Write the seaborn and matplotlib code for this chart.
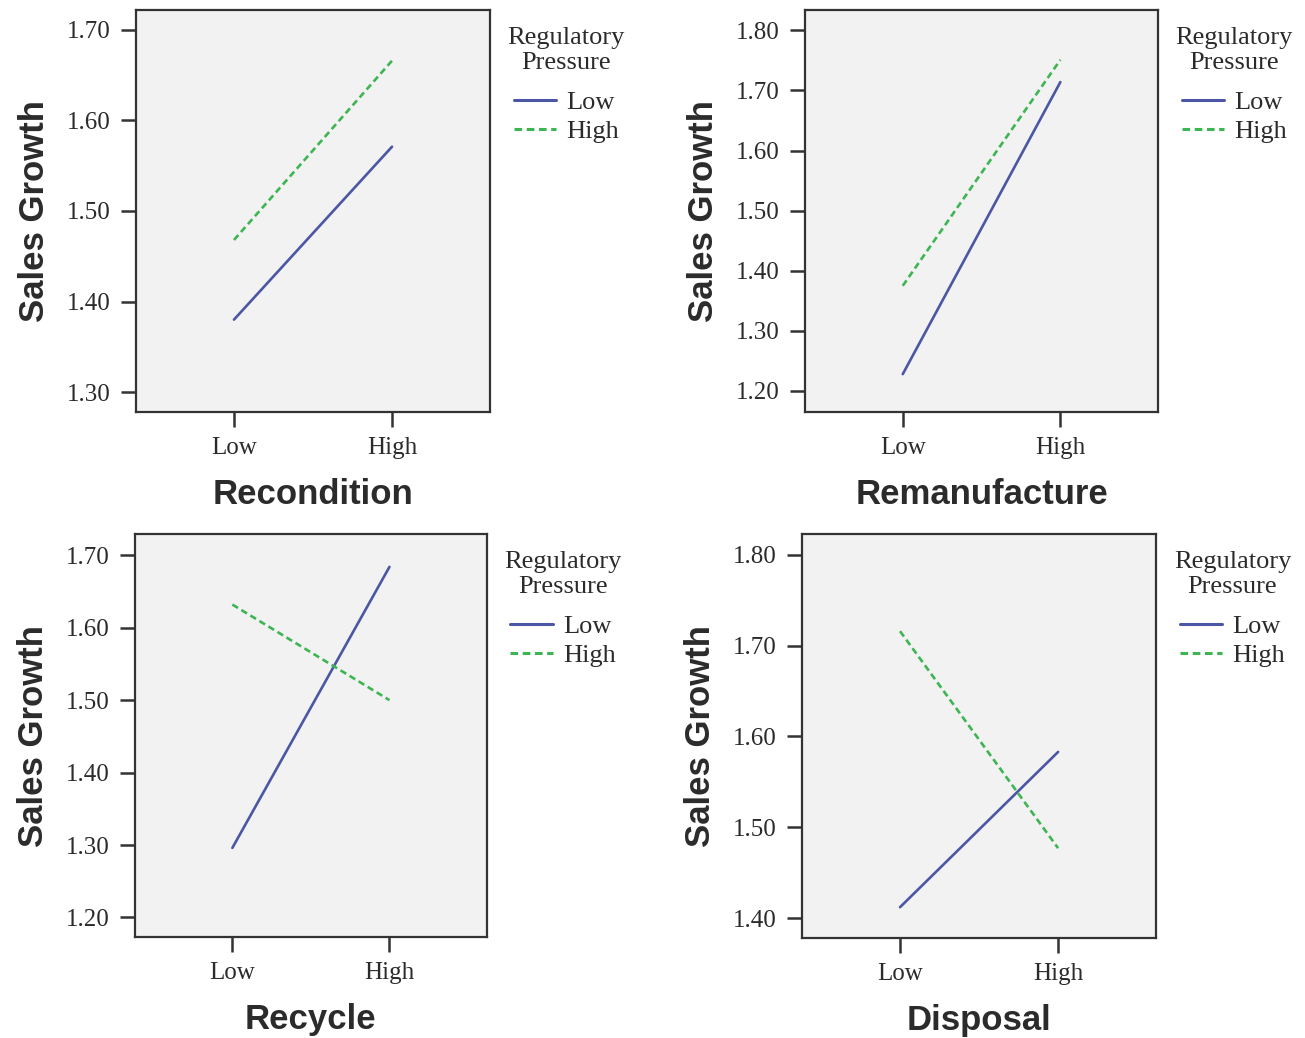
import matplotlib
matplotlib.use("Agg")
import matplotlib.pyplot as plt
import seaborn as sns
import pandas as pd

# values
levels = ["Low", "High"]
pressure = ["Low", "High"]
panels = ["Recondition", "Remanufacture", "Recycle", "Disposal"]

recondition_low = [1.380, 1.571]
recondition_high = [1.468, 1.666]
remanufacture_low = [1.228, 1.714]
remanufacture_high = [1.375, 1.751]
recycle_low = [1.296, 1.684]
recycle_high = [1.632, 1.500]
disposal_low = [1.412, 1.583]
disposal_high = [1.716, 1.477]

yticks = {
    "Recondition": [1.30, 1.40, 1.50, 1.60, 1.70],
    "Remanufacture": [1.20, 1.30, 1.40, 1.50, 1.60, 1.70, 1.80],
    "Recycle": [1.20, 1.30, 1.40, 1.50, 1.60, 1.70],
    "Disposal": [1.40, 1.50, 1.60, 1.70, 1.80],
}
ylims = {
    "Recondition": (1.278, 1.722),
    "Remanufacture": (1.165, 1.834),
    "Recycle": (1.173, 1.729),
    "Disposal": (1.378, 1.823),
}

series = {
    "Recondition": (recondition_low, recondition_high),
    "Remanufacture": (remanufacture_low, remanufacture_high),
    "Recycle": (recycle_low, recycle_high),
    "Disposal": (disposal_low, disposal_high),
}

sns.set_theme(style="ticks")
plt.rcParams["font.family"] = ["Liberation Serif", "DejaVu Serif"]

TXT = "#2b2b2b"
BLUE = "#4b57a5"
GREEN = "#3db552"

fig = plt.figure(figsize=(13.05, 10.38), dpi=100)
positions = [
    [0.1042, 0.6031, 0.2713, 0.3873],
    [0.6169, 0.6031, 0.2705, 0.3873],
    [0.1034, 0.0973, 0.2697, 0.3880],
    [0.6146, 0.0963, 0.2713, 0.3892],
]

for name, pos in zip(panels, positions):
    ax = fig.add_axes(pos)
    low, high = series[name]
    df = pd.DataFrame({
        "level": levels * 2,
        "growth": low + high,
        "Regulatory\nPressure": [pressure[0]] * 2 + [pressure[1]] * 2,
    })
    sns.lineplot(
        data=df, x="level", y="growth",
        hue="Regulatory\nPressure", style="Regulatory\nPressure",
        palette={"Low": BLUE, "High": GREEN},
        dashes={"Low": "", "High": (2.5, 1.5)},
        linewidth=1.9, ax=ax,
    )
    ax.set_facecolor("#f2f2f2")
    ax.set_xlim(-0.62, 1.62)
    ax.set_ylim(*ylims[name])
    ax.set_yticks(yticks[name])
    ax.set_yticklabels([f"{v:.2f}" for v in yticks[name]])
    for sp in ax.spines.values():
        sp.set_color("#333333")
        sp.set_linewidth(1.6)
    ax.tick_params(axis="both", length=11, width=1.8, color="#333333",
                   labelsize=18, labelcolor=TXT, pad=7)
    ax.set_xlabel(name, fontsize=25, fontweight="bold", family="Liberation Sans",
                  color=TXT, labelpad=14)
    ax.set_ylabel("Sales Growth", fontsize=25, fontweight="bold",
                  family="Liberation Sans", color=TXT, labelpad=12)

    leg = ax.legend(loc="upper left", bbox_to_anchor=(1.02, 0.985), frameon=False,
                    fontsize=19, title="Regulatory\nPressure", title_fontsize=19,
                    handlelength=1.6, handletextpad=0.4, labelspacing=0.2,
                    borderaxespad=0)
    leg.get_title().set_multialignment("center")
    leg.get_title().set_color(TXT)
    for t in leg.get_texts():
        t.set_color(TXT)
    for ln in leg.get_lines():
        ln.set_linewidth(2.2)
    leg._legend_box.sep = 12

fig.savefig("out.png", dpi=100, facecolor="white")
